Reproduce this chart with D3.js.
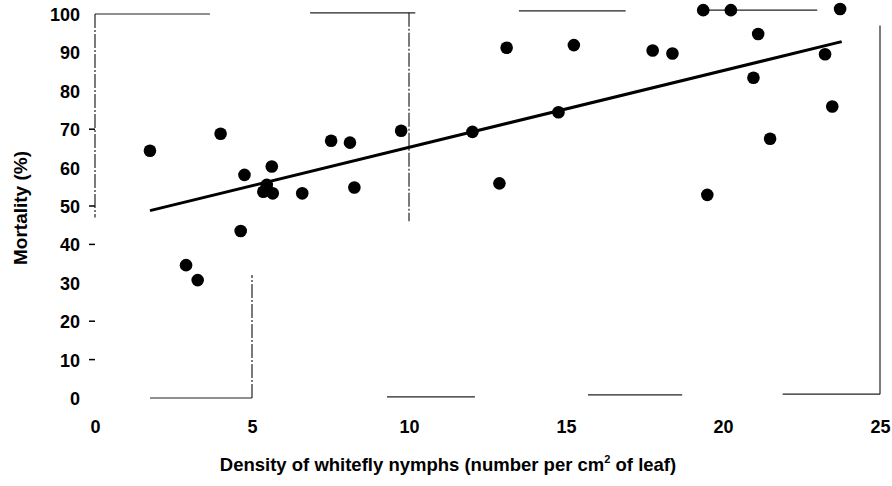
<!DOCTYPE html>
<html>
<head>
<meta charset="utf-8">
<script src="https://cdn.jsdelivr.net/npm/d3@7"></script>
<style>
  html, body { margin: 0; padding: 0; background: #fff; }
  svg text { font-family: "Liberation Sans", Arial, sans-serif; font-weight: bold; fill: #000; }
</style>
</head>
<body>
<svg id="chart" width="892" height="486"></svg>
<script>
// Data
const density   = [1.75, 2.9, 3.27, 4.0, 4.64, 4.76, 5.36, 5.47, 5.63, 5.66, 6.6, 7.52, 8.12, 8.26, 9.75,
                   12.02, 12.88, 13.11, 14.76, 15.25, 17.76, 18.39, 19.37, 19.5, 20.25, 20.97, 21.12,
                   21.5, 23.25, 23.48, 23.73];
const mortality = [64.4, 34.6, 30.7, 68.8, 43.5, 58.1, 53.7, 55.5, 60.3, 53.3, 53.3, 67, 66.5, 54.8, 69.6,
                   69.3, 55.9, 91.2, 74.4, 91.9, 90.5, 89.7, 101, 52.9, 101, 83.4, 94.8,
                   67.5, 89.5, 75.9, 101.3];

// fitted regression line (end points)
const fitX = [1.75, 23.78];
const fitY = [48.8, 92.8];

const xTicks = [0, 5, 10, 15, 20, 25];
const yTicks = [0, 10, 20, 30, 40, 50, 60, 70, 80, 90, 100];
const yTickMarks = [10, 20, 40, 50, 70];

// broken frame pieces as they survive in the scan: [x0, y0, x1, y1]
const frameBits = [
  [0, 100, 3.66, 100], [0, 100, 0, 47],
  [6.85, 100.3, 10.2, 100.3], [10, 100.3, 10, 46],
  [13.5, 100.8, 16.9, 100.8], [19.4, 101, 23.0, 101],
  [25, 97, 25, 1],
  [1.75, 0, 5, 0], [5, 0, 5, 32],
  [9.3, 0.3, 12.1, 0.3], [15.7, 0.8, 18.7, 0.8], [21.9, 1, 25, 1]
];

const svg = d3.select("#chart");
const x = d3.scaleLinear().domain([0, 25]).range([95, 880]);
const y = d3.scaleLinear().domain([0, 100]).range([398, 14]);

// frame fragments
svg.append("g")
  .selectAll("line")
  .data(frameBits)
  .join("line")
    .attr("x1", d => x(d[0])).attr("y1", d => y(d[1]))
    .attr("x2", d => x(d[2])).attr("y2", d => y(d[3]))
    .attr("stroke", "#222")
    .attr("stroke-width", 1.2)
    .attr("stroke-dasharray", (d, i) => (i === 1 || i === 3 || i === 8) ? "14,2,2,2" : null);

// tick marks on y
svg.append("g")
  .selectAll("line")
  .data(yTickMarks)
  .join("line")
    .attr("x1", x(0) - 6).attr("x2", x(0))
    .attr("y1", d => y(d)).attr("y2", d => y(d))
    .attr("stroke", "#000").attr("stroke-width", 1.5);

// axes (labels only)
const yAxis = svg.append("g")
  .attr("transform", `translate(${x(0) - 15},0)`)
  .call(d3.axisLeft(y).tickValues(yTicks).tickSize(0).tickPadding(0));
yAxis.select(".domain").remove();
yAxis.selectAll("text")
  .attr("dy", "0.36em")
  .style("font-family", "'Liberation Sans', Arial, sans-serif")
  .style("font-weight", "bold")
  .style("font-size", "18px");

const xAxis = svg.append("g")
  .attr("transform", `translate(0,${y(0) + 35})`)
  .call(d3.axisBottom(x).tickValues(xTicks).tickSize(0).tickPadding(0));
xAxis.select(".domain").remove();
xAxis.selectAll("text")
  .attr("dy", 0)
  .style("font-family", "'Liberation Sans', Arial, sans-serif")
  .style("font-weight", "bold")
  .style("font-size", "18px");

// regression line
svg.append("line")
  .attr("x1", x(fitX[0])).attr("y1", y(fitY[0]))
  .attr("x2", x(fitX[1])).attr("y2", y(fitY[1]))
  .attr("stroke", "#000")
  .attr("stroke-width", 3);

// points
svg.append("g")
  .selectAll("circle")
  .data(density.map((d, i) => [d, mortality[i]]))
  .join("circle")
    .attr("cx", d => x(d[0]))
    .attr("cy", d => y(d[1]))
    .attr("r", 6.3)
    .attr("fill", "#000");

// axis titles
const xt = svg.append("text")
  .attr("x", 448).attr("y", 471)
  .attr("text-anchor", "middle")
  .style("font-size", "18.5px");
xt.append("tspan").text("Density of whitefly nymphs (number per cm");
xt.append("tspan").attr("dy", -8).style("font-size", "11px").text("2");
xt.append("tspan").attr("dy", 8).text(" of leaf)");

svg.append("text")
  .attr("transform", "translate(27,208) rotate(-90)")
  .attr("text-anchor", "middle")
  .style("font-size", "19px")
  .text("Mortality (%)");
</script>
</body>
</html>
